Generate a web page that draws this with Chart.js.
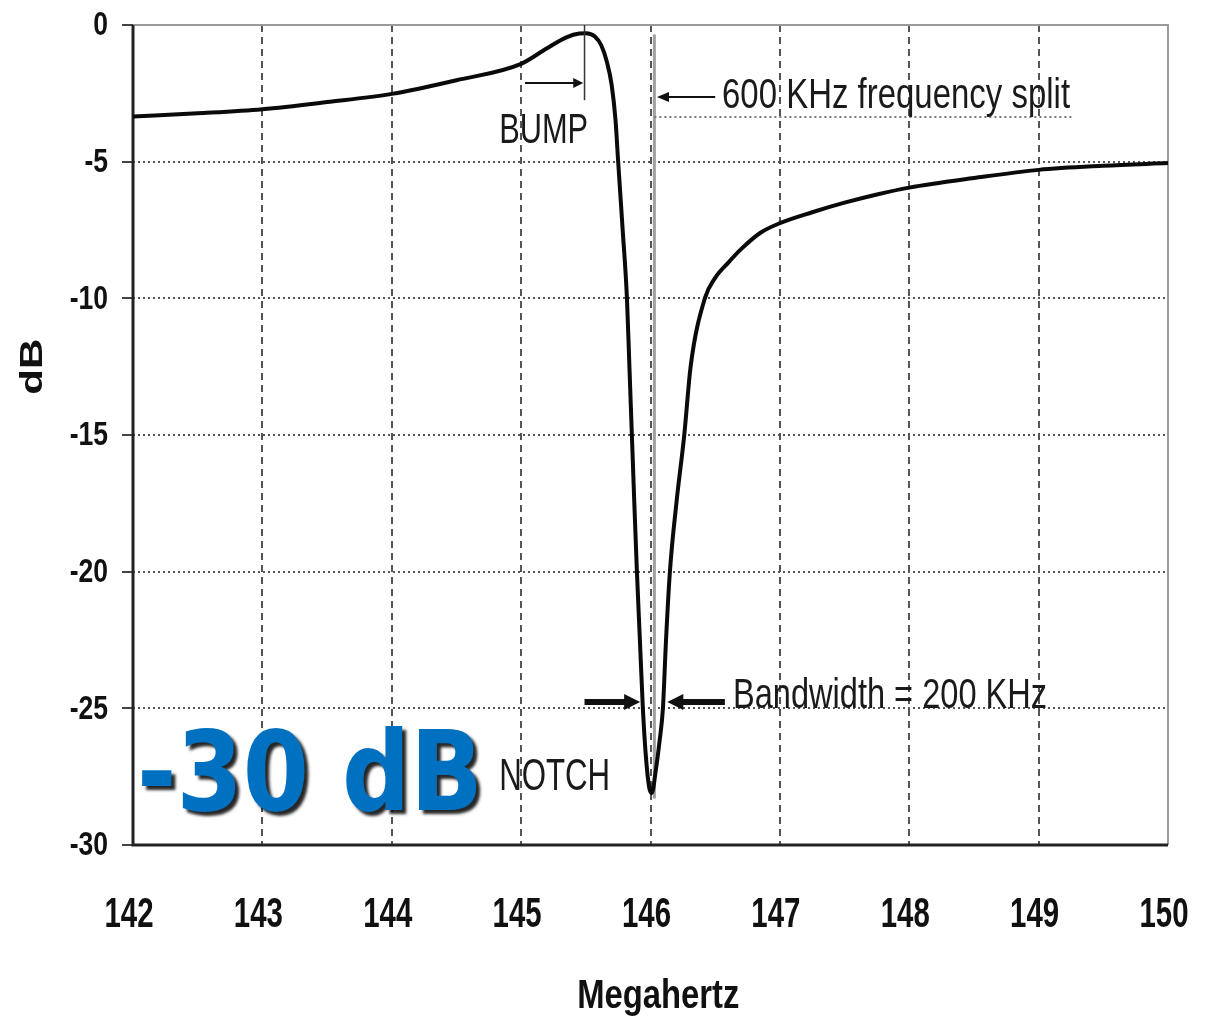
<!DOCTYPE html>
<html>
<head>
<meta charset="utf-8">
<script src="https://cdn.jsdelivr.net/npm/chart.js@4/dist/chart.umd.min.js"></script>
<style>
  html, body { margin: 0; padding: 0; background: #fff; }
  #wrap { width: 1229px; height: 1024px; position: relative; }
</style>
</head>
<body>
<div id="wrap"><canvas id="chart"></canvas></div>
<script>
// notch filter response
const freqMHz = [142.0, 142.5, 143.0, 143.5, 144.0, 144.5, 145.0, 145.2, 145.35, 145.45, 145.5,
  145.57, 145.62, 145.66, 145.7, 145.73, 145.75, 145.785, 145.818, 145.837, 145.856, 145.875,
  145.895, 145.918, 145.941, 145.965, 145.99, 146.01, 146.04, 146.07, 146.096, 146.12, 146.15,
  146.2, 146.261, 146.31, 146.42, 146.5, 146.6, 146.7, 146.85, 147.0, 147.25, 147.5, 147.75, 148.0,
  148.5, 149.0, 149.5, 150.0];
const levelDb = [-3.35, -3.23, -3.08, -2.82, -2.52, -2.02, -1.42, -0.85, -0.45, -0.31, -0.3,
  -0.42, -0.75, -1.3, -2.2, -3.5, -5.0, -7.5, -10.0, -12.5, -15.0, -17.5,
  -20.0, -22.5, -25.0, -26.8, -27.9, -28.1, -27.3, -26.2, -25.0, -22.5, -20.0,
  -17.5, -15.0, -12.5, -10.0, -9.25, -8.7, -8.2, -7.6, -7.25, -6.85, -6.5, -6.2, -5.95,
  -5.6, -5.3, -5.15, -5.05];
const xTicks = [142, 143, 144, 145, 146, 147, 148, 149, 150];
const yTicks = [0, -5, -10, -15, -20, -25, -30];
const xTitle = 'Megahertz';
const yTitle = 'dB';

const sans = '"Liberation Sans", Arial, sans-serif';

// the source picture is squeezed sideways, so text gets a horizontal scale
function squeezed(ctx, text, x, y, font, sx, align, base) {
  ctx.save();
  ctx.font = font;
  ctx.translate(x, y);
  ctx.scale(sx, 1);
  ctx.textAlign = align;
  ctx.textBaseline = base || 'middle';
  ctx.fillText(text, 0, 0);
  ctx.restore();
}

function fitText(ctx, text, x, y, size, width) {
  ctx.save();
  ctx.font = size + 'px ' + sans;
  const w = ctx.measureText(text).width;
  ctx.fillStyle = '#1a1a1a';
  squeezed(ctx, text, x, y, ctx.font, width / w, 'left');
  ctx.restore();
}

function arrow(ctx, x1, x2, y, lw, head, hh) {
  const dir = x2 > x1 ? 1 : -1;
  ctx.save();
  ctx.strokeStyle = '#111';
  ctx.fillStyle = '#111';
  ctx.lineWidth = lw;
  ctx.beginPath();
  ctx.moveTo(x1, y);
  ctx.lineTo(x2 - dir * head * 0.8, y);
  ctx.stroke();
  ctx.beginPath();
  ctx.moveTo(x2, y);
  ctx.lineTo(x2 - dir * head, y - hh);
  ctx.lineTo(x2 - dir * head, y + hh);
  ctx.closePath();
  ctx.fill();
  ctx.restore();
}

const framePlugin = {
  id: 'frame',
  beforeDatasetsDraw(chart) {
    const { ctx, chartArea: a } = chart;
    ctx.save();
    ctx.lineWidth = 2;
    ctx.strokeStyle = '#9a9a9a';
    ctx.beginPath();
    ctx.moveTo(a.left, a.top);
    ctx.lineTo(a.right, a.top);
    ctx.lineTo(a.right, a.bottom);
    ctx.stroke();
    ctx.lineWidth = 3;
    ctx.strokeStyle = '#222';
    ctx.beginPath();
    ctx.moveTo(a.left, a.top);
    ctx.lineTo(a.left, a.bottom);
    ctx.lineTo(a.right, a.bottom);
    ctx.stroke();
    ctx.restore();
  },
  afterDraw(chart) {
    // tick labels and axis titles, placed by the scales
    const { ctx } = chart;
    const x = chart.scales.x, y = chart.scales.y;
    ctx.save();
    ctx.fillStyle = '#111';
    x.ticks.forEach(t => {
      squeezed(ctx, String(t.value), x.getPixelForValue(t.value) - 4, 915, 'bold 42px ' + sans, 0.7, 'center');
    });
    y.ticks.forEach(t => {
      squeezed(ctx, String(t.value), 108, y.getPixelForValue(t.value) + 1, 'bold 34px ' + sans, 0.78, 'right');
    });
    squeezed(ctx, xTitle, x.getPixelForValue(146.06), 997, 'bold 40px ' + sans, 0.82, 'center');
    ctx.translate(33, y.getPixelForValue(-12.5));
    ctx.rotate(-Math.PI / 2);
    ctx.scale(1, 0.75);
    ctx.font = 'bold 42px ' + sans;
    ctx.textAlign = 'center';
    ctx.textBaseline = 'middle';
    ctx.fillText(yTitle, 0, 0);
    ctx.restore();
  }
};

const notesPlugin = {
  id: 'notes',
  beforeDatasetsDraw(chart) {
    const { ctx } = chart;
    const x = chart.scales.x, y = chart.scales.y;
    ctx.save();
    // split marker at the notch
    ctx.strokeStyle = '#a0a0a0';
    ctx.lineWidth = 3;
    ctx.beginPath();
    ctx.moveTo(x.getPixelForValue(146.03), y.getPixelForValue(-0.35));
    ctx.lineTo(x.getPixelForValue(146.03), y.getPixelForValue(-28.3));
    ctx.stroke();
    // dotted line under the split label
    ctx.strokeStyle = '#777';
    ctx.lineWidth = 2;
    ctx.setLineDash([2, 3]);
    ctx.beginPath();
    ctx.moveTo(x.getPixelForValue(146.03), y.getPixelForValue(-3.37));
    ctx.lineTo(x.getPixelForValue(149.27), y.getPixelForValue(-3.37));
    ctx.stroke();
    ctx.restore();
  },
  afterDatasetsDraw(chart) {
    const { ctx } = chart;
    const x = chart.scales.x, y = chart.scales.y;
    ctx.save();
    // bump marker
    ctx.strokeStyle = '#333';
    ctx.lineWidth = 1.5;
    ctx.beginPath();
    ctx.moveTo(x.getPixelForValue(145.49), y.getPixelForValue(0));
    ctx.lineTo(x.getPixelForValue(145.49), y.getPixelForValue(-2.75));
    ctx.stroke();
    arrow(ctx, x.getPixelForValue(145.03), x.getPixelForValue(145.48), y.getPixelForValue(-2.12), 2, 10, 5);
    fitText(ctx, 'BUMP', x.getPixelForValue(144.83), y.getPixelForValue(-3.91), 42, 89);

    arrow(ctx, x.getPixelForValue(146.5), x.getPixelForValue(146.05), y.getPixelForValue(-2.63), 2, 12, 5);
    fitText(ctx, '600 KHz frequency split', x.getPixelForValue(146.553), y.getPixelForValue(-2.63), 42, 348);

    arrow(ctx, x.getPixelForValue(145.49), x.getPixelForValue(145.92), y.getPixelForValue(-24.77), 6, 16, 8);
    arrow(ctx, x.getPixelForValue(146.575), x.getPixelForValue(146.13), y.getPixelForValue(-24.77), 6, 16, 8);
    fitText(ctx, 'Bandwidth = 200 KHz', x.getPixelForValue(146.638), y.getPixelForValue(-24.55), 42, 314);

    fitText(ctx, 'NOTCH', x.getPixelForValue(144.83), y.getPixelForValue(-27.55), 44, 111);

    // big blue label
    ctx.font = 'bold 110px "DejaVu Sans", sans-serif';
    const t = '-30 dB';
    const w = ctx.measureText(t).width;
    ctx.translate(x.getPixelForValue(142.03), y.getPixelForValue(-28.72));
    ctx.scale(346 / w, 1);
    ctx.textBaseline = 'alphabetic';
    ctx.textAlign = 'left';
    ctx.shadowColor = 'rgba(0,0,0,0.85)';
    ctx.shadowOffsetX = 4;
    ctx.shadowOffsetY = 4;
    ctx.shadowBlur = 3;
    ctx.fillStyle = '#0070c0';
    ctx.fillText(t, 0, 0);
    ctx.restore();
  }
};

const chartData = {
  datasets: [
    {
      label: 'Response',
      data: freqMHz.map((f, i) => ({ x: f, y: levelDb[i] })),
      borderColor: '#0a0a0a',
      borderWidth: 4,
      pointRadius: 0,
      cubicInterpolationMode: 'monotone',
      fill: false,
    },
  ],
};

const chartConfig = {
  type: 'line',
  data: chartData,
  options: {
    responsive: false,
    animation: false,
    layout: { padding: { top: 25, right: 61, left: 0, bottom: 0 } },
    plugins: { legend: { display: false }, tooltip: { enabled: false } },
    scales: {
      x: {
        type: 'linear',
        min: 142,
        max: 150,
        afterFit(s) { s.height = 179; },
        afterBuildTicks(s) { s.ticks = xTicks.map(v => ({ value: v })); },
        ticks: { display: false },
        grid: {
          drawTicks: false,
          lineWidth: 2,
          color: c => (c.tick && (c.tick.value === 142 || c.tick.value === 150)) ? 'rgba(0,0,0,0)' : '#555',
        },
        border: { display: false, dash: [7, 5] },
        title: { display: false },
      },
      y: {
        min: -30,
        max: 0,
        afterFit(s) { s.width = 133; },
        afterBuildTicks(s) { s.ticks = yTicks.map(v => ({ value: v })); },
        ticks: { display: false },
        grid: {
          lineWidth: 2,
          tickLength: 11,
          tickColor: '#444',
          color: c => (c.tick && (c.tick.value === 0 || c.tick.value === -30)) ? 'rgba(0,0,0,0)' : '#555',
        },
        border: { display: false, dash: [2, 3] },
        title: { display: false },
      },
    },
  },
  plugins: [framePlugin, notesPlugin],
};

const canvas = document.getElementById('chart');
canvas.width = 1229;
canvas.height = 1024;
const myChart = new Chart(canvas, chartConfig);
</script>
</body>
</html>
